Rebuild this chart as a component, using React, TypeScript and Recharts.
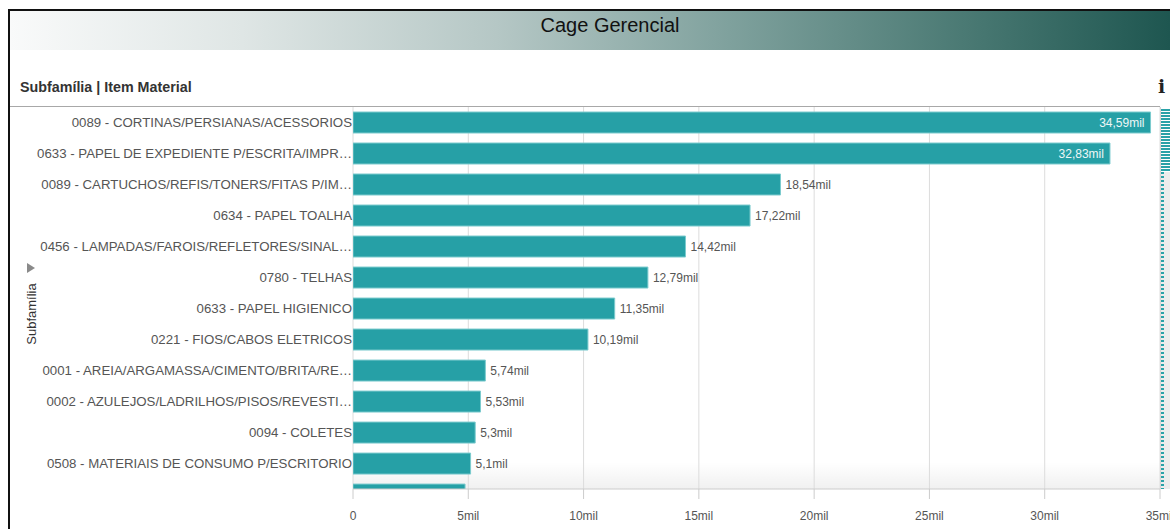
import React from 'react';
import { BarChart, Bar, XAxis, YAxis, CartesianGrid, LabelList } from 'recharts';

const categories: string[] = [
  '0089 - CORTINAS/PERSIANAS/ACESSORIOS',
  '0633 - PAPEL DE EXPEDIENTE P/ESCRITA/IMPR…',
  '0089 - CARTUCHOS/REFIS/TONERS/FITAS P/IM…',
  '0634 - PAPEL TOALHA',
  '0456 - LAMPADAS/FAROIS/REFLETORES/SINAL…',
  '0780 - TELHAS',
  '0633 - PAPEL HIGIENICO',
  '0221 - FIOS/CABOS ELETRICOS',
  '0001 - AREIA/ARGAMASSA/CIMENTO/BRITA/RE…',
  '0002 - AZULEJOS/LADRILHOS/PISOS/REVESTI…',
  '0094 - COLETES',
  '0508 - MATERIAIS DE CONSUMO P/ESCRITORIO',
  '',
];

const values: number[] = [34590, 32830, 18540, 17220, 14420, 12790, 11350, 10190, 5740, 5530, 5300, 5100, 4860];

const xTicks: number[] = [0, 5000, 10000, 15000, 20000, 25000, 30000, 35000];
const yTicks: number[] = [0, 1, 2, 3, 4, 5, 6, 7, 8, 9, 10, 11];

const data = categories.map((name, idx) => ({ idx, name, value: values[idx] }));

const FONT = '"Liberation Sans", Arial, Helvetica, sans-serif';
const BAR_COLOR = '#26a0a6';
const PLOT_TOP = 107;
const PLOT_BOTTOM = 489;
const PLOT_RIGHT = 1160;

const fmtMil = (v: number) => {
  if (v === 0) return '0';
  const n = Math.round(v / 10) / 100;
  return `${String(n).replace('.', ',')}mil`;
};

const ValueLabel = (props: any) => {
  const { x, y, width, height, value } = props;
  if (value == null) return null;
  const cy = y + height / 2;
  if (cy > PLOT_BOTTOM) return null;
  const text = fmtMil(value);
  const end = x + width;
  const inside = end + 5 + 52 > PLOT_RIGHT;
  return (
    <text
      x={inside ? end - 6 : end + 5}
      y={cy}
      dy="0.35em"
      textAnchor={inside ? 'end' : 'start'}
      fill={inside ? '#eef7f7' : '#555'}
      fontSize={12}
      fontFamily={FONT}
    >
      {text}
    </text>
  );
};

const CategoryTick = (props: any) => {
  const { x, y, payload } = props;
  const label = categories[payload?.value] ?? '';
  return (
    <text x={x} y={y} dy="0.35em" textAnchor="end" fill="#555" fontSize={13.25} fontFamily={FONT}>
      {label}
    </text>
  );
};

export default function App() {
  return (
    <div
      style={{
        position: 'fixed',
        left: 0,
        top: 0,
        width: 1170,
        height: 529,
        overflow: 'hidden',
        background: '#fff',
        fontFamily: FONT,
      }}
    >
      {/* title bar */}
      <div
        style={{
          position: 'absolute',
          left: 10,
          top: 11,
          width: 1160,
          height: 39,
          background:
            'linear-gradient(to right, #f9fafa 0%, #dfe6e5 20%, #b5c7c5 42%, #7fa19d 62%, #4b7a74 82%, #1e5650 100%)',
        }}
      />
      <div
        style={{
          position: 'absolute',
          left: 10,
          top: 10,
          width: 1200,
          height: 30,
          lineHeight: '30px',
          textAlign: 'center',
          fontSize: 20,
          color: '#111',
        }}
      >
        Cage Gerencial
      </div>
      {/* subtitle */}
      <div
        style={{
          position: 'absolute',
          left: 20,
          top: 79,
          fontSize: 14.3,
          fontWeight: 'bold',
          color: '#333',
          lineHeight: '17px',
        }}
      >
        Subfamília | Item Material
      </div>
      <div
        style={{
          position: 'absolute',
          left: 1158,
          top: 75,
          fontSize: 19,
          fontWeight: 'bold',
          fontFamily: '"DejaVu Serif", serif',
          color: '#222',
          lineHeight: '22px',
        }}
      >
        i
      </div>
      {/* top rule */}
      <div style={{ position: 'absolute', left: 10, top: 106, width: 1150, height: 1, background: '#a8a8a8' }} />
      {/* y axis title */}
      <div
        style={{
          position: 'absolute',
          left: 27,
          top: 263,
          width: 0,
          height: 0,
          borderLeft: '8px solid #8a8a8a',
          borderTop: '5px solid transparent',
          borderBottom: '5px solid transparent',
        }}
      />
      <div
        style={{
          position: 'absolute',
          left: 31,
          top: 314,
          fontSize: 13,
          color: '#333',
          whiteSpace: 'nowrap',
          transform: 'translate(-50%, -50%) rotate(-90deg)',
        }}
      >
        Subfamília
      </div>
      {/* bottom shade of plot */}
      <div
        style={{
          position: 'absolute',
          left: 353,
          top: 462,
          width: 807,
          height: 27,
          background: 'linear-gradient(to bottom, rgba(0,0,0,0), rgba(0,0,0,0.06))',
        }}
      />
      {/* scrollbar / overview strip */}
      <div style={{ position: 'absolute', left: 1160, top: 107, width: 1, height: 382, background: '#cfcfcf' }} />
      <div style={{ position: 'absolute', left: 1161, top: 172, width: 9, height: 317, background: '#ececec' }} />
      <div
        style={{
          position: 'absolute',
          left: 1161,
          top: 109,
          width: 9,
          height: 63,
          background: 'repeating-linear-gradient(to bottom, #2aa2a8 0px, #2aa2a8 2px, #ffffff 2px, #ffffff 3px)',
        }}
      />
      <div
        style={{
          position: 'absolute',
          left: 1161,
          top: 172,
          width: 3,
          height: 317,
          background: 'repeating-linear-gradient(to bottom, #2aa2a8 0px, #2aa2a8 2px, #ececec 2px, #ececec 4px)',
        }}
      />
      {/* chart */}
      <div style={{ position: 'absolute', left: 0, top: 0 }}>
        <BarChart
          width={1170}
          height={529}
          data={data}
          layout="vertical"
          margin={{ top: PLOT_TOP, right: 1170 - PLOT_RIGHT, bottom: 10, left: 0 }}
        >
          <CartesianGrid horizontal={false} vertical stroke="#dcdcdc" />
          <XAxis
            type="number"
            domain={[0, 35000]}
            ticks={xTicks}
            interval={0}
            tickFormatter={fmtMil}
            height={30}
            tickSize={10}
            tickMargin={12}
            stroke="#cccccc"
            tick={{ fill: '#555', fontSize: 12, fontFamily: FONT }}
            allowDataOverflow
          />
          <YAxis
            type="number"
            dataKey="idx"
            domain={[-0.5, 11.82]}
            allowDataOverflow
            ticks={yTicks}
            interval={0}
            width={353}
            axisLine={false}
            tickLine={false}
            tickSize={0}
            tickMargin={1}
            tick={<CategoryTick />}
          />
          <Bar
            dataKey="value"
            barSize={21}
            fill={BAR_COLOR}
            stroke="#7ccbce"
            strokeWidth={1}
            isAnimationActive={false}
          >
            <LabelList dataKey="value" content={ValueLabel} />
          </Bar>
        </BarChart>
      </div>
      {/* frame */}
      <div
        style={{
          position: 'absolute',
          left: 8,
          top: 9,
          width: 1300,
          height: 700,
          border: '2px solid #111',
          pointerEvents: 'none',
        }}
      />
    </div>
  );
}
